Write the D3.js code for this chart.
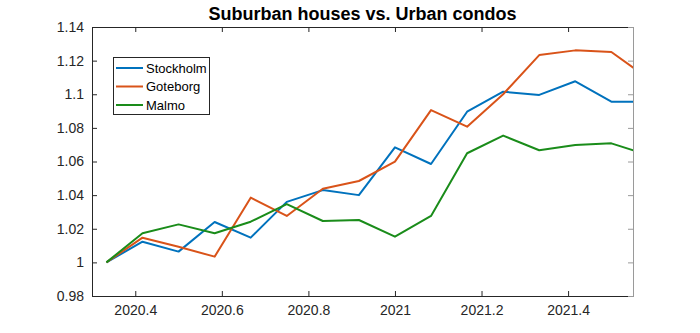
<!DOCTYPE html>
<html>
<head>
<meta charset="utf-8">
<script src="https://cdn.jsdelivr.net/npm/d3@7"></script>
<style>
  body { margin: 0; background: #fff; }
  svg { display: block; font-family: "Liberation Sans", Arial, sans-serif; }
</style>
</head>
<body>
<div id="chart"></div>
<script>
// monthly points, May 2020 .. Aug 2021 (decimal years)
const months = [2020 + 4/12, 2020 + 5/12, 2020 + 6/12, 2020 + 7/12, 2020 + 8/12, 2020 + 9/12,
  2020 + 10/12, 2020 + 11/12, 2021, 2021 + 1/12, 2021 + 2/12, 2021 + 3/12, 2021 + 4/12,
  2021 + 5/12, 2021 + 6/12, 2021 + 7/12];
const stockholm = [1.000, 1.0123, 1.0064, 1.024, 1.0147, 1.036, 1.043, 1.040, 1.0684, 1.0585,
  1.0896, 1.1015, 1.0996, 1.1077, 1.0956, 1.0956];
const goteborg = [1.000, 1.0147, 1.0093, 1.0034, 1.0385, 1.0276, 1.0438, 1.0484, 1.0599, 1.0906,
  1.0807, 1.100, 1.1233, 1.1261, 1.1251, 1.1097];
const malmo = [1.000, 1.0173, 1.0226, 1.0173, 1.0242, 1.0347, 1.0246, 1.0252, 1.0153, 1.0276,
  1.0649, 1.0754, 1.0667, 1.0698, 1.0708, 1.064];
const seriesNames = ["Stockholm", "Goteborg", "Malmo"];
const seriesColors = ["#0072BD", "#D95319", "#1A8C1A"];
const xTicks = [2020.4, 2020.6, 2020.8, 2021, 2021.2, 2021.4];
const yTicks = [0.98, 1, 1.02, 1.04, 1.06, 1.08, 1.1, 1.12, 1.14];

const width = 700, height = 333;
const margin = { top: 27, right: 67, bottom: 37, left: 92 };
const innerW = width - margin.left - margin.right;
const innerH = height - margin.top - margin.bottom;
const axisColor = "#262626";

const x = d3.scaleLinear().domain([2020.3, 2021.55]).range([margin.left, margin.left + innerW]);
const y = d3.scaleLinear().domain([0.98, 1.14]).range([margin.top + innerH, margin.top]);

const svg = d3.select("#chart").append("svg")
  .attr("width", width).attr("height", height);

svg.append("defs").append("clipPath").attr("id", "plot-clip")
  .append("rect")
  .attr("x", margin.left).attr("y", margin.top)
  .attr("width", innerW).attr("height", innerH);

// axes, MATLAB style: ticks inward on all four sides
const tickLen = 5;
svg.append("g")
  .attr("transform", `translate(0,${margin.top + innerH})`)
  .call(d3.axisBottom(x).tickValues(xTicks).tickFormat(d3.format("")).tickSizeInner(-tickLen).tickSizeOuter(0).tickPadding(9))
  .call(g => g.selectAll("text").attr("font-size", 14).attr("fill", axisColor));
svg.append("g")
  .attr("transform", `translate(0,${margin.top})`)
  .call(d3.axisTop(x).tickValues(xTicks).tickFormat("").tickSizeInner(-tickLen).tickSizeOuter(0));
svg.append("g")
  .attr("transform", `translate(${margin.left},0)`)
  .call(d3.axisLeft(y).tickValues(yTicks).tickFormat(d3.format("")).tickSizeInner(-tickLen).tickSizeOuter(0).tickPadding(8))
  .call(g => g.selectAll("text").attr("font-size", 14).attr("fill", axisColor));
const rightAxis = svg.append("g")
  .attr("class", "right-axis")
  .attr("transform", `translate(${margin.left + innerW},0)`)
  .call(d3.axisRight(y).tickValues(yTicks).tickFormat("").tickSizeInner(-tickLen).tickSizeOuter(0));
svg.selectAll(".domain, .tick line").attr("stroke", axisColor).attr("stroke-width", 1);
rightAxis.selectAll(".domain, .tick line").attr("stroke", "#9a9a9a");

// lines
const line = d3.line().x((d, i) => x(months[i])).y(d => y(d));
const plot = svg.append("g").attr("clip-path", "url(#plot-clip)");
[stockholm, goteborg, malmo].forEach((vals, k) => {
  plot.append("path")
    .datum(vals)
    .attr("fill", "none")
    .attr("stroke", seriesColors[k])
    .attr("stroke-width", 2)
    .attr("stroke-linejoin", "round")
    .attr("d", line);
});

// title
svg.append("text")
  .attr("x", margin.left + innerW / 2).attr("y", 20)
  .attr("text-anchor", "middle")
  .attr("font-size", 18).attr("font-weight", "bold").attr("fill", "#000")
  .text("Suburban houses vs. Urban condos");

// legend
const legend = svg.append("g").attr("transform", "translate(113,57)");
legend.append("rect")
  .attr("x", 0.5).attr("y", 0.5).attr("width", 96).attr("height", 57)
  .attr("fill", "#fff").attr("stroke", axisColor).attr("stroke-width", 1);
seriesNames.forEach((name, k) => {
  const ly = 11 + k * 18.5;
  legend.append("line")
    .attr("x1", 3).attr("x2", 30).attr("y1", ly).attr("y2", ly)
    .attr("stroke", seriesColors[k]).attr("stroke-width", 2);
  legend.append("text")
    .attr("x", 33).attr("y", ly).attr("dy", "0.35em")
    .attr("font-size", 13).attr("fill", "#000")
    .text(name);
});
</script>
</body>
</html>
